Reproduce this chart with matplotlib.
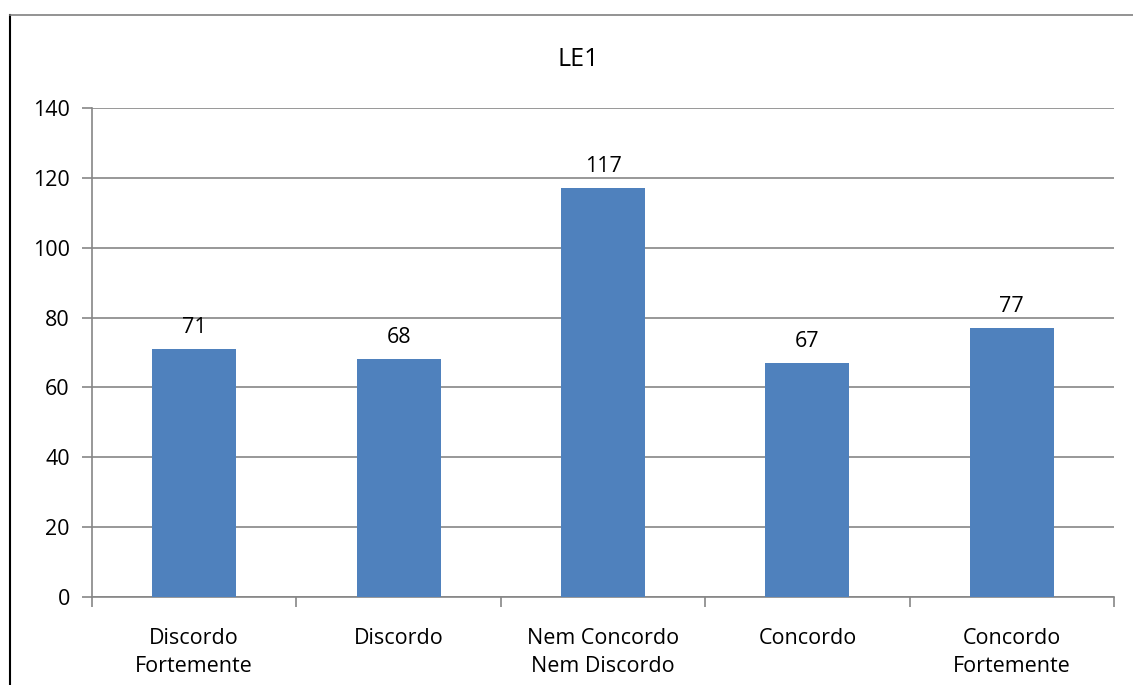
import matplotlib
matplotlib.use('Agg')
import matplotlib.pyplot as plt
from matplotlib.lines import Line2D

plt.rcParams['font.family'] = ['Open Sans', 'DejaVu Sans']

categories = ['Discordo\nFortemente', 'Discordo', 'Nem Concordo\nNem Discordo', 'Concordo', 'Concordo\nFortemente']
values = [71, 68, 117, 67, 77]
title = 'LE1'
yticks = [0, 20, 40, 60, 80, 100, 120, 140]

bar_color = '#4F81BD'
grid_color = '#868686'
fs = 15.5

fig = plt.figure(figsize=(11.33, 6.85), dpi=100)
ax = fig.add_axes([92/1133, 88/685, (1114-92)/1133, (597-108)/685])

x = list(range(len(values)))
ax.bar(x, values, width=0.41, color=bar_color, zorder=3)
for xi, v in zip(x, values):
    ax.text(xi, v + 3.2, str(v), ha='center', va='bottom', fontsize=fs, color='black')

ax.set_xlim(-0.5, len(values) - 0.5)
ax.set_ylim(0, 140)
ax.set_yticks(yticks)
ax.set_yticklabels([str(t) for t in yticks], fontsize=fs)
ax.yaxis.grid(True, color=grid_color, linewidth=1.2, zorder=0)
ax.set_axisbelow(True)

# category ticks between bars
ax.set_xticks([i - 0.5 for i in range(len(values) + 1)], minor=False)
ax.set_xticklabels([])
ax.set_xticks(x, minor=True)
ax.set_xticklabels(categories, minor=True, fontsize=fs, linespacing=1.45)
ax.tick_params(axis='x', which='major', length=7, color=grid_color, width=1.2)
ax.tick_params(axis='x', which='minor', length=0, pad=22)
ax.tick_params(axis='y', length=7, color=grid_color, width=1.2, pad=9)

for side in ['top', 'right']:
    ax.spines[side].set_visible(False)
for side in ['left', 'bottom']:
    ax.spines[side].set_color(grid_color)
    ax.spines[side].set_linewidth(1.2)

fig.text(578/1133, 1 - 60/685, title, ha='center', va='center', fontsize=18)

# chart border
fig.add_artist(Line2D([10/1133, 10/1133], [0, 1 - 15/685], color='black', linewidth=1.5, transform=fig.transFigure))
fig.add_artist(Line2D([10/1133, 1], [1 - 15/685, 1 - 15/685], color='#808080', linewidth=1.2, transform=fig.transFigure))

fig.savefig('out.png', dpi=100)
